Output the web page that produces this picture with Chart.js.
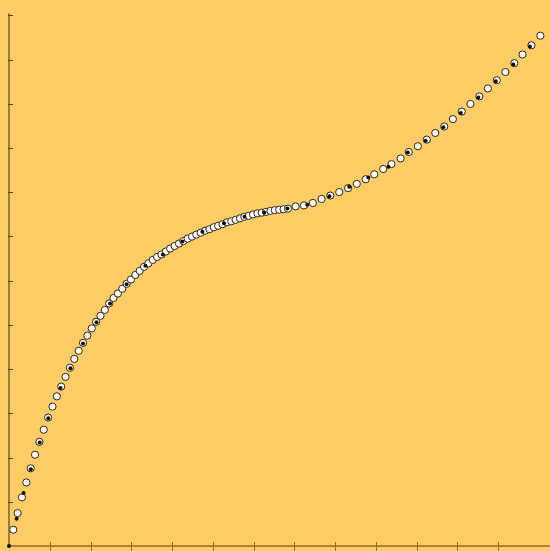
<!DOCTYPE html>
<html>
<head>
<meta charset="utf-8">
<script src="https://cdn.jsdelivr.net/npm/chart.js@4/dist/chart.umd.min.js"></script>
<style>
  html, body { margin: 0; padding: 0; background: #FFCC66; }
  #c { display: block; }
</style>
</head>
<body>
<canvas id="c" width="550" height="551"></canvas>
<script>
// ---- data ----
const whiteX = [
  0.105, 0.211, 0.318, 0.425, 0.532, 0.639, 0.746, 0.853, 0.960, 1.067,
  1.174, 1.281, 1.388, 1.495, 1.602, 1.709, 1.816, 1.923, 2.030, 2.137,
  2.244, 2.351, 2.457, 2.564, 2.671, 2.778, 2.885, 2.992, 3.099, 3.206,
  3.313, 3.420, 3.527, 3.634, 3.741, 3.848, 3.955, 4.062, 4.169, 4.276,
  4.383, 4.490, 4.596, 4.703, 4.810, 4.917, 5.024, 5.131, 5.238, 5.345,
  5.452, 5.559, 5.666, 5.773, 5.880, 5.987, 6.094, 6.201, 6.308, 6.415,
  6.522, 6.629, 6.736, 6.843,
  7.032, 7.236, 7.455, 7.669, 7.883, 8.102, 8.320, 8.532, 8.751, 8.962,
  9.181, 9.383, 9.609, 9.808, 10.031, 10.250, 10.459, 10.678, 10.890, 11.108,
  11.320, 11.539, 11.748, 11.967, 12.178, 12.397, 12.599, 12.817, 13.036
];
const whiteY = [
  0.369, 0.743, 1.101, 1.437, 1.757, 2.064, 2.355, 2.630, 2.906, 3.152,
  3.385, 3.604, 3.824, 4.030, 4.231, 4.415, 4.594, 4.757, 4.921, 5.071,
  5.205, 5.339, 5.485, 5.608, 5.709, 5.816, 5.928, 6.026, 6.129, 6.223,
  6.313, 6.391, 6.470, 6.537, 6.593, 6.660, 6.727, 6.783, 6.839, 6.895,
  6.951, 6.996, 7.041, 7.085, 7.130, 7.164, 7.208, 7.242, 7.276, 7.320,
  7.343, 7.376, 7.410, 7.443, 7.466, 7.499, 7.522, 7.538, 7.555, 7.578,
  7.594, 7.605, 7.616, 7.629,
  7.679, 7.701, 7.757, 7.847, 7.925, 8.003, 8.093, 8.189, 8.294, 8.406,
  8.525, 8.637, 8.764, 8.910, 9.040, 9.190, 9.340, 9.487, 9.653, 9.823,
  9.996, 10.168, 10.347, 10.533, 10.719, 10.920, 11.115, 11.323, 11.540
];
const blackX = [
  0.000, 0.187, 0.357, 0.535, 0.754, 0.965, 1.264, 1.507, 1.816, 2.146,
  2.479, 2.885, 3.347, 3.775, 4.254, 4.745, 5.275, 5.778, 6.264, 6.830,
  7.317, 7.859, 8.345, 8.816, 9.310, 9.784, 10.221, 10.654, 11.084, 11.514,
  11.942, 12.372, 12.781
];
const blackY = [
  0.000, 0.616, 1.198, 1.735, 2.339, 2.888, 3.571, 4.018, 4.578, 5.059,
  5.485, 5.921, 6.335, 6.593, 6.884, 7.108, 7.298, 7.444, 7.544, 7.634,
  7.719, 7.907, 8.126, 8.332, 8.574, 8.899, 9.167, 9.470, 9.794, 10.141,
  10.510, 10.891, 11.294
];
const xTicks = [1, 2, 3, 4, 5, 6, 7, 8, 9, 10, 11, 12];
const yTicks = [1, 2, 3, 4, 5, 6, 7, 8, 9, 10, 11, 12];

const whitePts = whiteX.map((x, i) => ({ x: x, y: whiteY[i] }));
const blackPts = blackX.map((x, i) => ({ x: x, y: blackY[i] }));

// draw the axis lines and tick marks through the chart's own scales
const axesPlugin = {
  id: 'axes',
  beforeDatasetsDraw(chart) {
    const ctx = chart.ctx;
    const xs = chart.scales.x, ys = chart.scales.y;
    const x0 = xs.getPixelForValue(0);
    const y0 = ys.getPixelForValue(0);
    ctx.save();
    // bottom axis
    ctx.strokeStyle = '#8a6c2c';
    ctx.lineWidth = 1.6;
    ctx.beginPath();
    ctx.moveTo(x0, y0);
    ctx.lineTo(chart.width, y0);
    ctx.stroke();
    ctx.lineWidth = 1;
    xTicks.forEach(v => {
      const px = Math.round(xs.getPixelForValue(v)) + 0.5;
      ctx.beginPath();
      ctx.moveTo(px, y0 - 4);
      ctx.lineTo(px, y0 + 5);
      ctx.stroke();
    });
    // left axis
    ctx.strokeStyle = '#5a4820';
    ctx.lineWidth = 1.2;
    const yTop = ys.getPixelForValue(yTicks[yTicks.length - 1]) - 2;
    ctx.beginPath();
    ctx.moveTo(x0, y0);
    ctx.lineTo(x0, yTop);
    ctx.stroke();
    ctx.lineWidth = 1;
    yTicks.forEach(v => {
      const py = Math.round(ys.getPixelForValue(v)) + 0.5;
      ctx.beginPath();
      ctx.moveTo(x0 - 1, py);
      ctx.lineTo(x0 + 4, py);
      ctx.stroke();
    });
    ctx.restore();
  }
};

new Chart(document.getElementById('c'), {
  type: 'scatter',
  data: {
    datasets: [
      {
        label: 'black',
        data: blackPts,
        order: 0,
        pointRadius: 2,
        pointBackgroundColor: '#111',
        pointBorderColor: '#111',
        pointBorderWidth: 0,
        clip: false
      },
      {
        label: 'white',
        data: whitePts,
        order: 1,
        pointRadius: 3.6,
        pointBackgroundColor: '#ffffff',
        pointBorderColor: '#2a2418',
        pointBorderWidth: 1,
        clip: false
      }
    ]
  },
  options: {
    responsive: false,
    animation: false,
    devicePixelRatio: 1,
    layout: { padding: { left: 9, right: 0, top: 0, bottom: 4.5 } },
    plugins: { legend: { display: false }, tooltip: { enabled: false } },
    events: [],
    scales: {
      x: { type: 'linear', display: false, min: 0, max: 13.15 },
      y: { type: 'linear', display: false, min: 0, max: 12.234 }
    }
  },
  plugins: [axesPlugin]
});
</script>
</body>
</html>
